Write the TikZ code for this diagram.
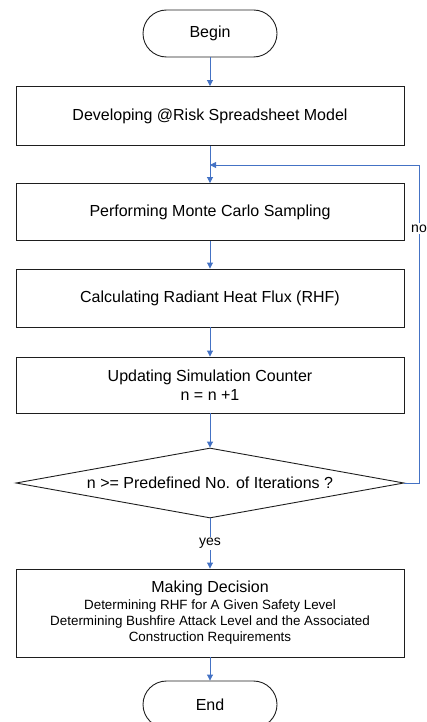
\documentclass[tikz,border=0pt]{standalone}
\usepackage{fontspec}
\setmainfont{Liberation Sans}
\usetikzlibrary{arrows.meta,shapes.geometric}
\definecolor{flowblue}{RGB}{68,114,196}
\definecolor{boxline}{RGB}{30,30,30}
\tikzset{
  procbox/.style={draw=boxline, line width=0.9pt, minimum width=388pt, inner sep=0pt, align=center, font=\fontsize{16}{19}\selectfont},
  termbox/.style={draw=boxline, line width=0.9pt, rounded corners=23.5pt, minimum width=134pt, minimum height=47pt, inner sep=0pt, font=\fontsize{16}{19}\selectfont},
  decbox/.style={draw=boxline, line width=0.9pt, diamond, aspect=5.54, minimum width=388pt, minimum height=70pt, inner sep=0pt, font=\fontsize{16}{19}\selectfont},
  flow/.style={draw=flowblue, line width=0.9pt, -{Triangle[width=6pt,length=6pt]}},
  lbl/.style={fill=white, inner sep=1.5pt, font=\fontsize{14}{16}\selectfont},
}
\begin{document}
\begin{tikzpicture}[x=1pt,y=-1pt]
\useasboundingbox (0,0) rectangle (427,722);
\clip (0,0) rectangle (427,722);
\node[termbox] (begin) at (210,33.5) {Begin};
\node[procbox, minimum height=59pt] (model) at (210,116) {Developing @Risk Spreadsheet Model};
\node[procbox, minimum height=57pt] (mc) at (210,212) {Performing Monte Carlo Sampling};
\node[procbox, minimum height=58pt] (rhf) at (210,298) {Calculating Radiant Heat Flux (RHF)};
\node[procbox, minimum height=56pt] (counter) at (210,385) {Updating Simulation Counter\\ n = n +1};
\node[decbox] (check) at (210,483) {n >= Predefined No. of Iterations ?};
\node[procbox, minimum height=88pt] (decision) at (210,613) {\fontsize{16}{19}\selectfont Making Decision\\[-2pt]
  \fontsize{13.4}{16}\selectfont Determining RHF for A Given Safety Level\\[-3pt]
  \fontsize{13.4}{16}\selectfont Determining Bushfire Attack Level and the Associated\\[-3pt]
  \fontsize{13.4}{16}\selectfont Construction Requirements};
\node[termbox] (end) at (210,704.5) {End};
\coordinate (join) at (210,165);
\coordinate (rt) at (419,483);
\coordinate (rtop) at (419,165);
\draw[flow] (begin) -- (model);
\draw[flow] (model) -- (mc);
\draw[flow] (mc) -- (rhf);
\draw[flow] (rhf) -- (counter);
\draw[flow] (counter) -- (check);
\draw[flow] (check) -- node[lbl, pos=0.5] {yes} (decision);
\draw[flow] (decision) -- (end);
\draw[flow] (check.east) -- (rt) -- node[lbl, pos=0.8] {no} (rtop) -- (join);
\end{tikzpicture}
\end{document}
